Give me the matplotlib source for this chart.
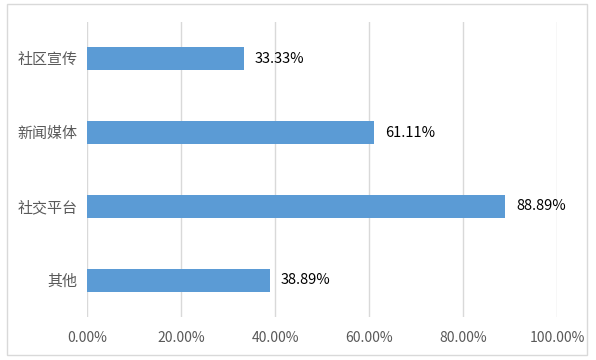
import matplotlib.pyplot as plt
from matplotlib.patches import Rectangle
from matplotlib.ticker import FuncFormatter

plt.rcParams['font.family'] = ['Noto Sans CJK SC', 'DejaVu Sans']

categories = ['社区宣传', '新闻媒体', '社交平台', '其他']
values = [0.3333, 0.6111, 0.8889, 0.3889]
value_labels = ['33.33%', '61.11%', '88.89%', '38.89%']
xticks = [0, 0.2, 0.4, 0.6, 0.8, 1.0]

fig = plt.figure(figsize=(5.96, 3.6), dpi=100)
fig.patches.append(Rectangle((7/596, 1-355/360), 580/596, 351/360,
                             transform=fig.transFigure, fill=False,
                             edgecolor='#d9d9d9', lw=1))
ax = fig.add_axes([87/596, 1-317/360, 470/596, 295/360])

ypos = list(range(len(categories)))[::-1]
ax.barh(ypos, values, height=0.31, color='#5b9bd5', zorder=3)
for y, v, lab in zip(ypos, values, value_labels):
    ax.text(v + 0.024, y, lab, va='center', ha='left', fontsize=10.5,
            color='black')

ax.set_xlim(0, 1)
ax.set_ylim(-0.5, len(categories) - 0.5)
ax.set_xticks(xticks)
ax.xaxis.set_major_formatter(FuncFormatter(lambda x, p: '%.2f%%' % (x * 100)))
ax.set_yticks(ypos)
ax.set_yticklabels(categories)
ax.tick_params(axis='both', length=0, colors='#595959', labelsize=10)
ax.tick_params(axis='y', labelsize=10.8, pad=7)
ax.tick_params(axis='x', pad=10)
ax.grid(axis='x', color='#d9d9d9', lw=1, zorder=0)
for s in ax.spines.values():
    s.set_visible(False)

fig.savefig('out.png', dpi=100)
